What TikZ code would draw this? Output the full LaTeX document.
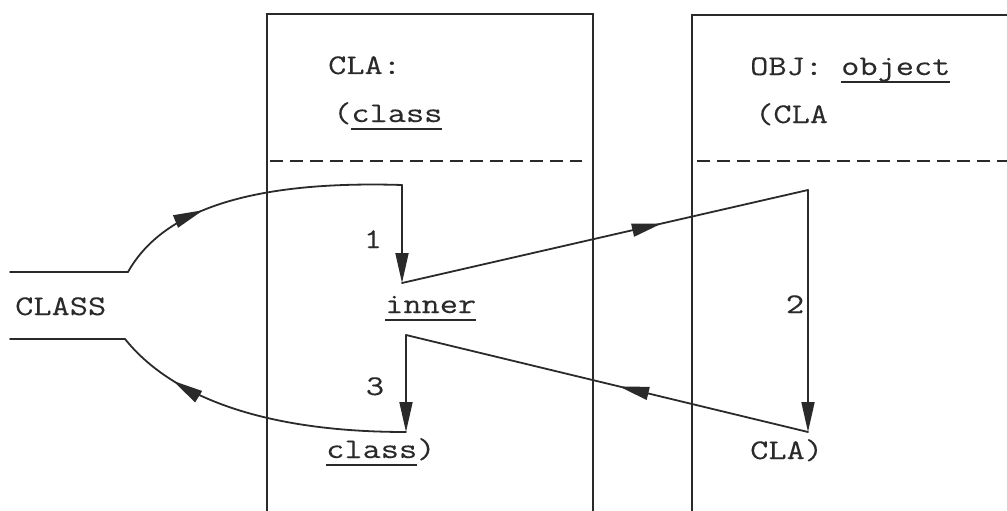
\documentclass[tikz,border=0pt]{standalone}
\usepackage{fontspec}
\setmonofont[FakeStretch=1.24,FakeBold=0.2]{Latin Modern Mono}
\usetikzlibrary{arrows.meta,decorations.markings}

\definecolor{ink}{HTML}{2A2A2A}

% underline a word at a fixed depth below the baseline
\newcommand\ulword[1]{\setbox0\hbox{#1}\rlap{\rule[-8pt]{\wd0}{1.7pt}}\box0}

\begin{document}
\begin{tikzpicture}[x=1pt,y=-1pt,
  txt/.style={font=\ttfamily\fontsize{28.5}{32}\selectfont, inner sep=0pt, anchor=base west, text=ink},
  num/.style={txt, anchor=base},
  frame/.style={draw=ink, line width=1.4pt},
  divider/.style={draw=ink, line width=2.2pt, dash pattern=on 13pt off 7pt},
  wire/.style={draw=ink, line width=1.8pt, line cap=round, line join=round},
  tipped/.style={wire, -{Triangle[length=30pt,width=13pt]}},
  midarrow/.style={wire, postaction={decorate}, decoration={markings,
      mark=at position #1 with {\arrow{Triangle[length=30pt,width=13pt]}}}}
]
\useasboundingbox (0,0) rectangle (1007,511);

% the two blocks
\draw[frame] (267,511) -- (267,14) -- (593,14) -- (593,511);
\draw[frame] (692,511) -- (692,15) -- (1007,15);
\draw[divider] (270,161) -- (582,161);
\draw[divider] (697,161) -- (1007,161);

% texts
\node[txt] (cla)    at (328,74)  {CLA:};
\node[txt] (clsopen) at (333,122) {(\ulword{class}};
\node[txt] (obj)    at (750,75)  {OBJ: \ulword{object}};
\node[txt] (claopen) at (755,123) {(CLA};
\node[txt] (CLASS)  at (15,315)  {CLASS};
\node[txt] (inner)  at (385,313) {\ulword{inner}};
\node[txt] (clsclose) at (326,458) {\ulword{class})};
\node[txt] (claclose) at (750,459) {CLA)};
\node[num] (n1) at (373,248) {1};
\node[num] (n2) at (795,313) {2};
\node[num] (n3) at (375,395) {3};

% connector corners
\coordinate (upin)   at (10,272);
\coordinate (upend)  at (128,272);
\coordinate (lowin)  at (10,339);
\coordinate (lowend) at (125,339);
\coordinate (c1) at (402,185);
\coordinate (t1) at (402,283);
\coordinate (c2) at (808,190);
\coordinate (t2) at (808,432);
\coordinate (c3) at (406,335);
\coordinate (t3) at (406,432);

% the CLASS channel
\draw[wire] (upin) -- (upend);
\draw[wire] (lowin) -- (lowend);

% control flow
\draw[midarrow=0.33] (upend) .. controls (160,215) and (240,180) .. (c1);
\draw[tipped] (c1) -- (t1);
\draw[midarrow=0.64] (t1) -- (c2);
\draw[tipped] (c2) -- (t2);
\draw[midarrow=0.47] (t2) -- (c3);
\draw[tipped] (c3) -- (t3);
\draw[midarrow=0.79] (t3) .. controls (260,432) and (170,395) .. (lowend);
\end{tikzpicture}
\end{document}
